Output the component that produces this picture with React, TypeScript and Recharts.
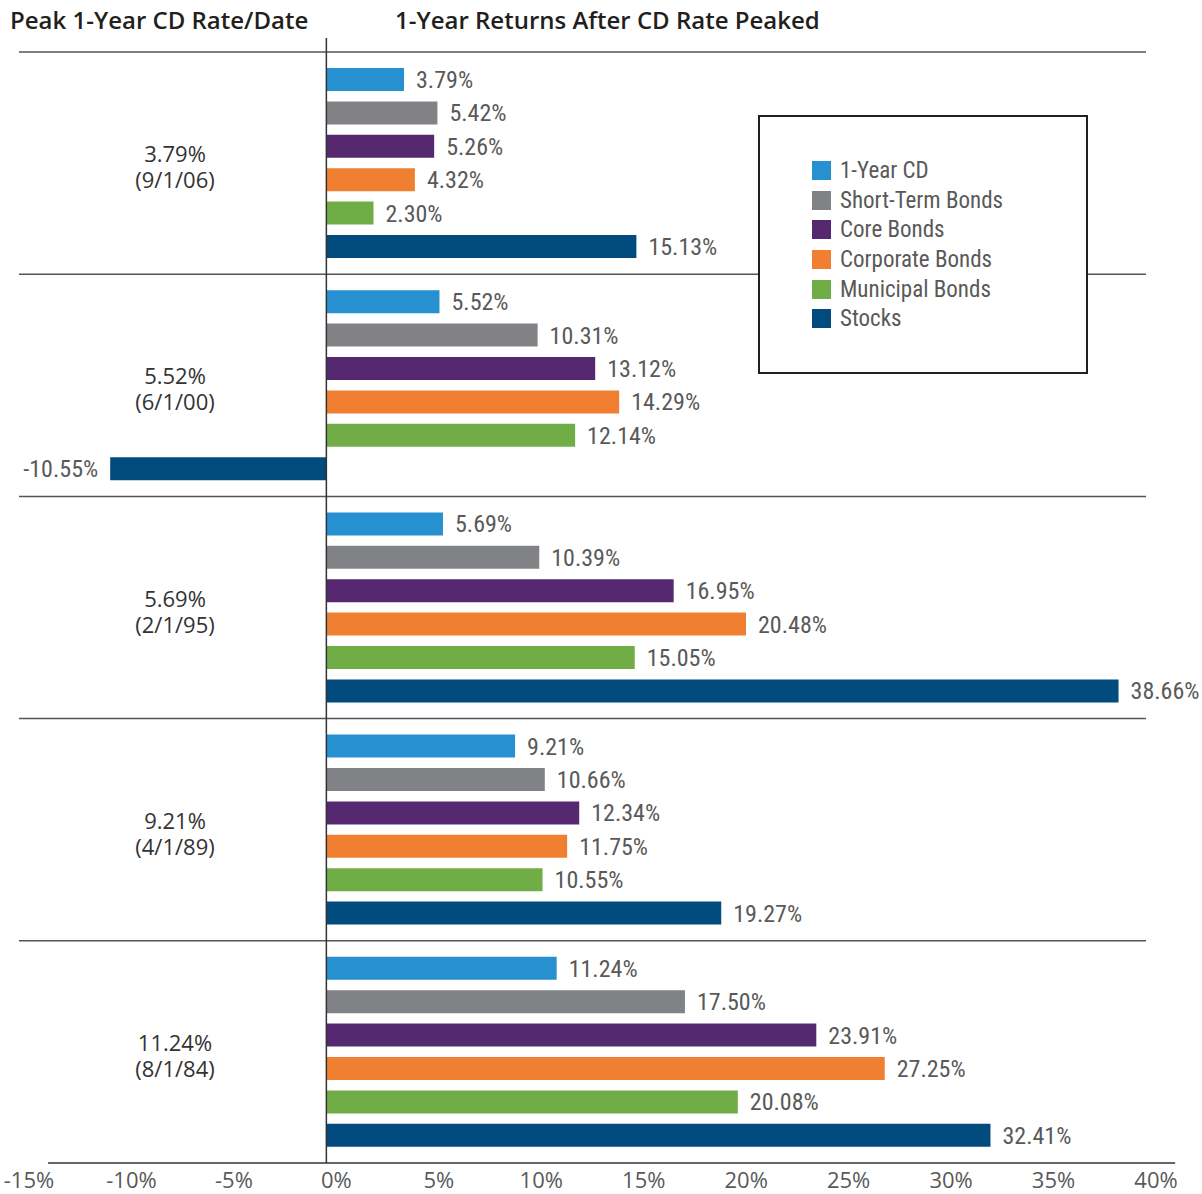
import React from 'react';
import { BarChart, Bar, XAxis, YAxis, ReferenceLine, LabelList, Legend } from 'recharts';

const peakRates = ['3.79%', '5.52%', '5.69%', '9.21%', '11.24%'];
const peakDates = ['(9/1/06)', '(6/1/00)', '(2/1/95)', '(4/1/89)', '(8/1/84)'];

const seriesNames = ['1-Year CD', 'Short-Term Bonds', 'Core Bonds', 'Corporate Bonds', 'Municipal Bonds', 'Stocks'];
const seriesKeys = ['cd', 'shortTerm', 'core', 'corporate', 'municipal', 'stocks'];
const seriesColors = ['#2690D0', '#818285', '#55286F', '#F07F32', '#70AD47', '#024B7E'];

const cd = [3.79, 5.52, 5.69, 9.21, 11.24];
const shortTerm = [5.42, 10.31, 10.39, 10.66, 17.5];
const core = [5.26, 13.12, 16.95, 12.34, 23.91];
const corporate = [4.32, 14.29, 20.48, 11.75, 27.25];
const municipal = [2.3, 12.14, 15.05, 10.55, 20.08];
const stocks = [15.13, -10.55, 38.66, 19.27, 32.41];

const xTicks = [-15, -10, -5, 0, 5, 10, 15, 20, 25, 30, 35, 40];

// visual offset of the drawn bottom axis line relative to the plot (style only)
const AXIS_LINE_SHIFT = 1.42;

const OPEN = "'Open Sans', sans-serif";
const NARROW = "'Liberation Sans Narrow', 'Roboto Condensed', 'DejaVu Sans Condensed', 'Arial Narrow', sans-serif";

const GroupTick = (props: any) => {
  const { x, y, payload } = props;
  const [rate, date] = String(payload.value).split('|');
  return (
    <text x={x + 156} y={y - 10} textAnchor="middle" dominantBaseline="central" fill="#333" fontSize={22} fontFamily={OPEN}>
      <tspan x={x + 156}>{rate}</tspan>
      <tspan x={x + 156} dy={26}>
        {date}
      </tspan>
    </text>
  );
};

const XTick = (props: any) => {
  const { x, y, payload } = props;
  return (
    <text x={x + 10} y={y} dy={17} textAnchor="middle" fill="#595959" fontSize={22} fontFamily={OPEN}>
      {`${payload.value}%`}
    </text>
  );
};

const LegendBox = (props: any) => {
  const { payload = [] } = props;
  const items = [...payload].sort((a: any, b: any) => seriesNames.indexOf(a.value) - seriesNames.indexOf(b.value));
  return (
    <div
      style={{
        width: 330,
        height: 259,
        border: '2px solid #231f20',
        boxSizing: 'border-box',
        background: '#fff',
        paddingTop: 39,
        paddingLeft: 52,
      }}
    >
      {items.map((p: any) => (
        <div key={p.value} style={{ display: 'flex', alignItems: 'center', height: 29.6 }}>
          <span style={{ display: 'inline-block', width: 19, height: 19, background: p.color, marginRight: 9 }} />
          <span style={{ fontFamily: NARROW, fontStretch: 'condensed', fontSize: 23, color: '#595959', lineHeight: '29px' }}>
            {p.value}
          </span>
        </div>
      ))}
    </div>
  );
};

const titleStyle = (left: number): React.CSSProperties => ({
  position: 'absolute',
  left,
  top: 5,
  lineHeight: '30px',
  fontFamily: OPEN,
  fontWeight: 600,
  fontSize: 24,
  color: '#231f20',
  whiteSpace: 'nowrap',
  zIndex: 2,
});

export default function App() {
  const seriesValues = [cd, shortTerm, core, corporate, municipal, stocks];
  const data = peakRates.map((r, i) => {
    const row: any = { group: `${r}|${peakDates[i]}` };
    seriesKeys.forEach((k, j) => {
      row[k] = seriesValues[j][i];
    });
    return row;
  });
  const lastGroup = data[data.length - 1].group;

  return (
    <div style={{ position: 'absolute', left: 0, top: 0, width: 1202, height: 1194, background: '#fff', overflow: 'hidden' }}>
      <BarChart
        width={1202}
        height={1194}
        data={data}
        layout="vertical"
        margin={{ top: 38, right: 56, bottom: 1, left: 18 }}
        barSize={23}
        barGap={10.4}
      >
        <XAxis
          type="number"
          domain={[-15, 40]}
          ticks={xTicks}
          interval={0}
          allowDataOverflow
          height={30}
          tickLine={false}
          axisLine={false}
          tick={<XTick />}
        />
        <YAxis
          type="category"
          dataKey="group"
          width={1}
          tickLine={false}
          axisLine={false}
          tickSize={0}
          tickMargin={0}
          interval={0}
          padding={{ top: 14, bottom: 0 }}
          tick={<GroupTick />}
        />
        {data.map((row) => (
          <ReferenceLine key={row.group} y={row.group} position="start" stroke="#555" strokeWidth={1.5} />
        ))}
        <ReferenceLine
          segment={[
            { x: xTicks[0] + AXIS_LINE_SHIFT, y: lastGroup },
            { x: xTicks[xTicks.length - 1] + AXIS_LINE_SHIFT, y: lastGroup },
          ]}
          position="end"
          ifOverflow="visible"
          stroke="#333"
          strokeWidth={1.5}
        />
        {seriesKeys.map((k, j) => (
          <Bar key={k} dataKey={k} name={seriesNames[j]} fill={seriesColors[j]} isAnimationActive={false}>
            <LabelList
              dataKey={k}
              position="right"
              offset={12}
              formatter={(v: any) => `${Number(v).toFixed(2)}%`}
              fill="#595959"
              fontSize={24}
              fontFamily={NARROW}
              style={{ fontStretch: 'condensed' }}
            />
          </Bar>
        ))}
        <ReferenceLine x={0} stroke="#333" strokeWidth={1.5} />
        <Legend
          layout="horizontal"
          verticalAlign="middle"
          align="center"
          content={<LegendBox />}
          wrapperStyle={{ left: 758, top: 115, width: 330, height: 259 }}
        />
      </BarChart>
      <div style={titleStyle(10)}>Peak 1-Year CD Rate/Date</div>
      <div style={titleStyle(395)}>1-Year Returns After CD Rate Peaked</div>
    </div>
  );
}
